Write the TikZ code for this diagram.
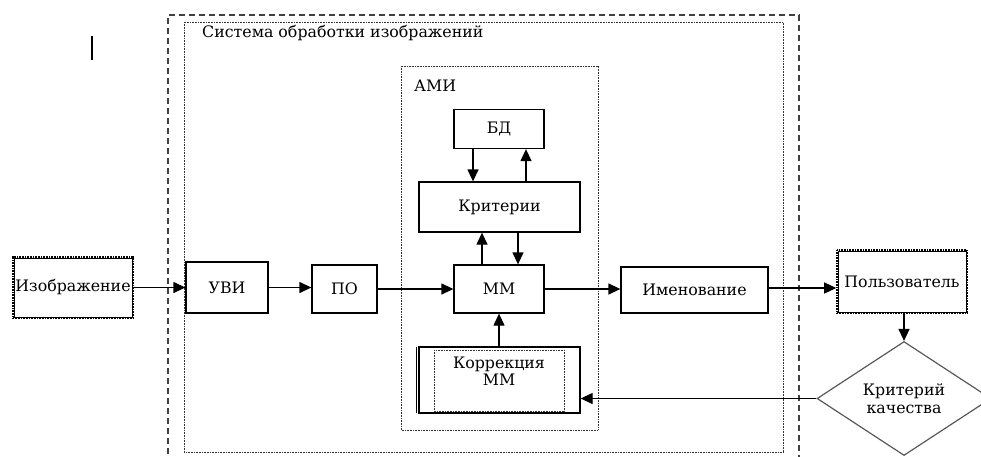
\documentclass[tikz,border=0pt]{standalone}
\usepackage{fontspec}
\setmainfont{DejaVu Serif}
\usetikzlibrary{arrows.meta,shapes.geometric,calc}
\begin{document}
\begin{tikzpicture}[x=1pt,y=-1pt,
  every node/.style={font=\fontsize{15.8}{18.5}\selectfont},
  blk/.style={draw=black,line width=1.3pt,inner sep=0pt,align=center},
  arr/.style={line width=1.3pt,-{Triangle[length=12pt,width=11pt]}},
  dotbox/.style={draw=black!80,line width=0.9pt,dash pattern=on 0.8pt off 0.8pt}
]
\useasboundingbox[fill=white] (0,0) rectangle (981,456);
% stray mark
\draw[line width=2pt] (92,36) -- (92,60);
% outer dashed frame
\draw[line width=2pt,black!75,dash pattern=on 6pt off 4pt] (168,464) -- (168,15) -- (799,15) -- (799,464);
% inner system frame
\draw[dotbox] (184,22) rectangle (783,452);
\node[anchor=west,inner sep=0pt] (sysl) at (202,33) {Система обработки изображений};
% AMI frame
\draw[dotbox] (401,66) rectangle (598,430);
\node[anchor=west,inner sep=0pt] (amil) at (414,86) {АМИ};
% blocks
\node[blk,minimum width=90,minimum height=39] (bd) at (499,129) {БД};
\node[blk,minimum width=161,minimum height=50] (krit) at (499.5,207) {Критерии};
\node[blk,minimum width=90,minimum height=48] (mm) at (499,289) {ММ};
\node[blk,minimum width=161,minimum height=66] (kor) at (499.5,380) {};
\draw[dotbox] (434,350) rectangle (564,411);
\draw[line width=1pt] (416.5,347) -- (416.5,413);
\node[inner sep=0pt,align=center] (kort) at (499,371) {Коррекция\\[-2pt]ММ};
\node[blk,minimum width=82,minimum height=51] (uvi) at (227,287.5) {УВИ};
\node[blk,minimum width=65,minimum height=48] (po) at (344.5,289) {ПО};
\node[blk,minimum width=147,minimum height=46] (imen) at (694.5,290) {Именование};
% image and user boxes (double dotted border)
\node[blk,minimum width=120,minimum height=61,line width=1.6pt,dash pattern=on 1pt off 0.6pt] (izo) at (73,287.5) {Изображение};
\draw[line width=0.6pt] ($(izo.south west)+(2,-2)$) rectangle ($(izo.north east)+(-2,2)$);
\node[blk,minimum width=130,minimum height=63,line width=1.6pt,dash pattern=on 1pt off 0.6pt] (user) at (902,281.5) {Пользователь};
\draw[line width=0.6pt] ($(user.south west)+(2,-2)$) rectangle ($(user.north east)+(-2,2)$);
% diamond
\node[draw=black!65,line width=1.2pt,shape=diamond,minimum width=174,minimum height=114,inner sep=0pt,align=center] (crit) at (904,398.5) {Критерий\\качества};
% connectors
\draw[arr] (izo.east) -- (izo.east -| uvi.west);
\draw[arr] (uvi.east) -- (uvi.east -| po.west);
\draw[arr] (po.east) -- (po.east -| mm.west);
\draw[arr] (mm.east) -- (mm.east -| imen.west);
\draw[arr] ([yshift=2]imen.east) -- ([yshift=2]imen.east -| user.west);
\draw[arr] ([xshift=-26]bd.south) -- ([xshift=-26]bd.south |- krit.north);
\draw[arr] ([xshift=27]bd.south |- krit.north) -- ([xshift=27]bd.south);
\draw[arr] ([xshift=-17]mm.north) -- ([xshift=-17]mm.north |- krit.south);
\draw[arr] ([xshift=19]mm.north |- krit.south) -- ([xshift=19]mm.north);
\draw[arr] (kor.north -| mm.north) -- (mm.south);
\draw[arr] (user.south -| crit.north) -- (crit.north);
\draw[arr] (crit.west) -- (crit.west -| kor.east);
\end{tikzpicture}
\end{document}
